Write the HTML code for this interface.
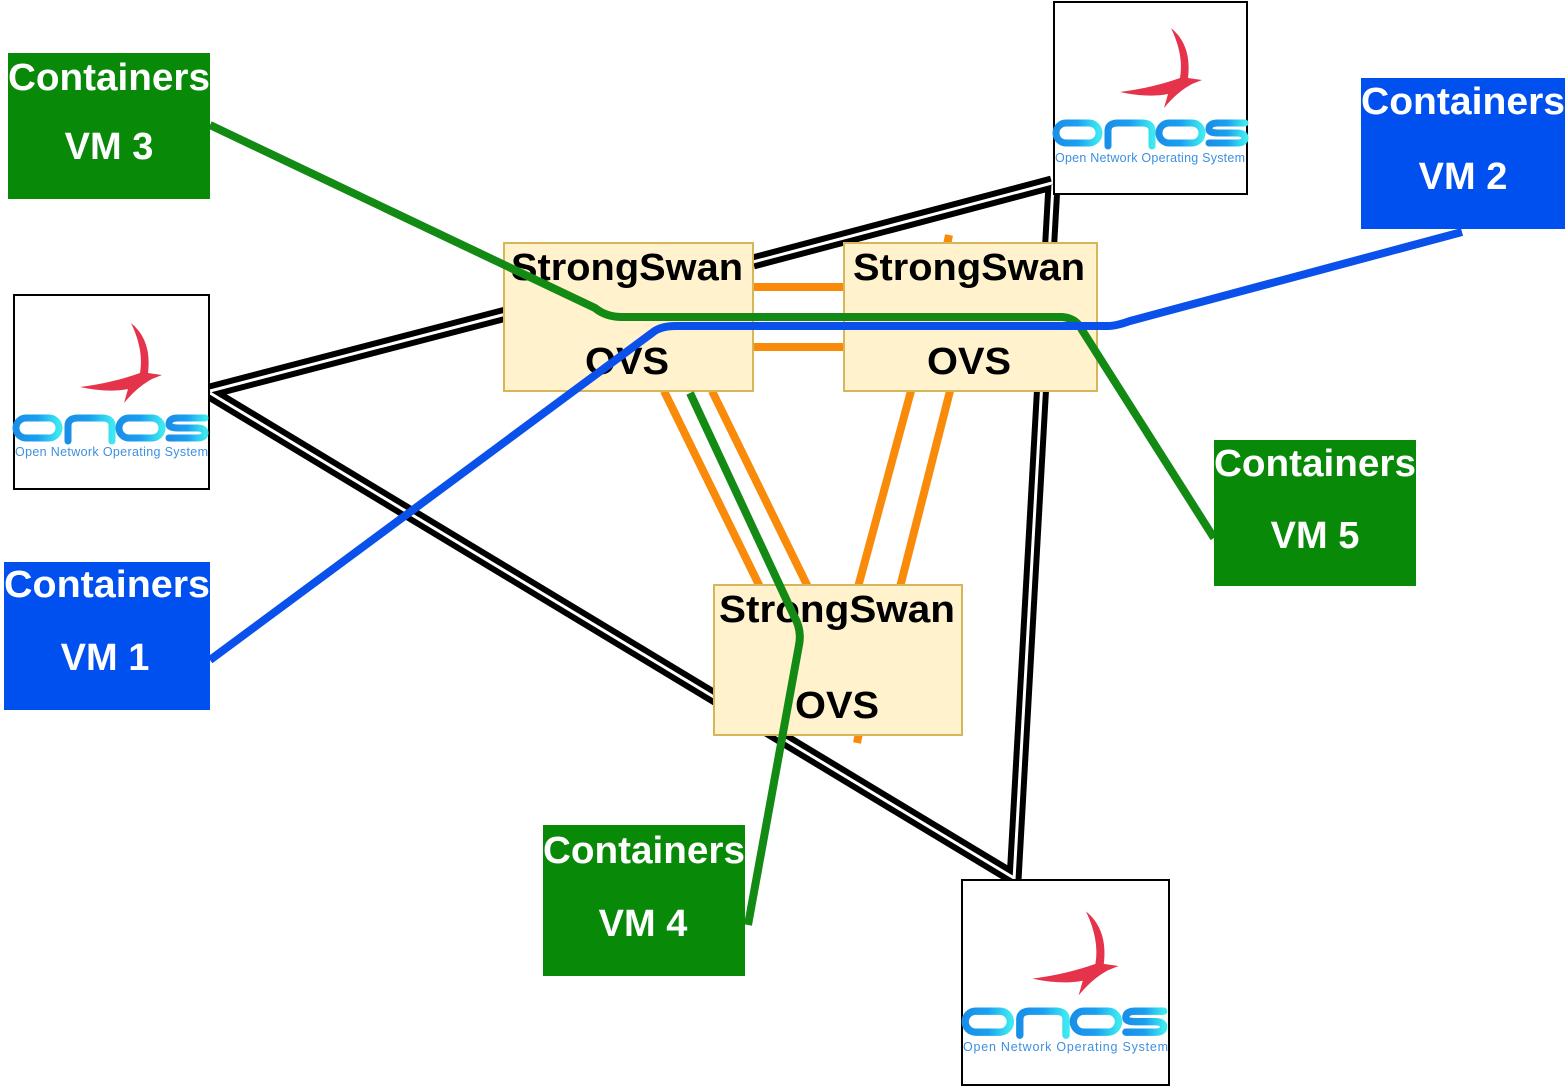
<!DOCTYPE html>
<html><head><meta charset="utf-8"><style>
html,body{margin:0;padding:0;background:#fff}
svg{display:block}
.t{font-family:"Liberation Sans",Arial,sans-serif;font-weight:bold;font-size:38px}
.o{font-family:"Liberation Sans",Arial,sans-serif;font-size:12.5px;fill:#3d8fe0}
</style></head><body>
<svg width="1566" height="1087" viewBox="0 0 1566 1087" xmlns="http://www.w3.org/2000/svg">
<defs>
<linearGradient id="lg" x1="0" x2="1" y1="0" y2="0">
<stop offset="0" stop-color="#1a8fe8"/><stop offset="0.5" stop-color="#1aa0f0"/><stop offset="1" stop-color="#3de8f0"/>
</linearGradient>
<g id="logo">
<path d="M119,28 Q140,45 136,78 L150,80 L140,84 Q125,92 112,108 L116,94 Q95,98 68,92 Q100,88 128,78 Q132,55 119,28 Z" fill="#e5334b"/>
<g fill="none" stroke="url(#lg)" stroke-width="7" stroke-linecap="round">
<rect x="4" y="123" width="43" height="20" rx="10"/>
<path d="M56,146 V131 Q56,123 66,123 H90 Q100,123 100,131 V146"/>
<rect x="107" y="123" width="43" height="20" rx="10"/>
<path d="M193,123 H166 Q157,123 157,129 Q157,133 166,133 H185 Q193,133 193,138 Q193,143 185,143 H157"/>
</g>
</g>
</defs>

<g fill="none" stroke-linecap="butt">
<g stroke="#000" stroke-width="15">
<line x1="210" y1="391" x2="506" y2="314"/>
<line x1="753" y1="262" x2="1052" y2="183"/>
<line x1="1053" y1="185" x2="1014" y2="880"/>
<line x1="210" y1="393" x2="1014" y2="878"/>
</g>
<g stroke="#fff" stroke-width="3">
<line x1="210" y1="391" x2="506" y2="314"/>
<line x1="753" y1="262" x2="1052" y2="183"/>
<line x1="1053" y1="185" x2="1014" y2="880"/>
<line x1="210" y1="393" x2="1014" y2="878"/>
</g>
</g>

<g stroke="#f98a0a" stroke-width="8" fill="none">
<line x1="753" y1="287" x2="844" y2="287"/>
<line x1="753" y1="347" x2="844" y2="347"/>
<line x1="664" y1="391" x2="760" y2="587"/>
<line x1="712" y1="391" x2="808" y2="587"/>
<line x1="911" y1="391" x2="858" y2="587"/>
<line x1="950" y1="391" x2="900" y2="587"/>
<line x1="949" y1="235" x2="947" y2="245"/>
<line x1="859" y1="733" x2="857" y2="743"/>
</g>

<g fill="#fff2cc" stroke="#d6b656" stroke-width="2">
<rect x="504" y="243" width="249" height="148"/>
<rect x="844" y="243" width="253" height="148"/>
<rect x="714" y="585" width="248" height="150"/>
</g>
<g class="t" fill="#000">
<text x="511" y="280" textLength="232" lengthAdjust="spacingAndGlyphs">StrongSwan</text>
<text x="585" y="374" textLength="84" lengthAdjust="spacingAndGlyphs">OVS</text>
<text x="853" y="280" textLength="232" lengthAdjust="spacingAndGlyphs">StrongSwan</text>
<text x="927" y="374" textLength="84" lengthAdjust="spacingAndGlyphs">OVS</text>
<text x="719" y="622" textLength="236" lengthAdjust="spacingAndGlyphs">StrongSwan</text>
<text x="795" y="718" textLength="84" lengthAdjust="spacingAndGlyphs">OVS</text>
</g>

<g fill="none" stroke-width="8" stroke-linejoin="round">
<path d="M210,125 L595,308 Q606,317 622,317 L1062,317 Q1076,318 1082,330 L1214,538" stroke="#138a13"/>
<path d="M690,393 L794,616 Q802,630 799,645 L748,925" stroke="#138a13"/>
<path d="M210,660 L652,333 Q660,326 676,326 L1108,326 Q1116,326 1130,321 L1462,232" stroke="#0a50ea"/>
</g>

<rect x="8" y="53" width="202" height="146" fill="#088908"/>
<rect x="1361" y="78" width="204" height="151" fill="#0050ef"/>
<rect x="1214" y="440" width="202" height="146" fill="#088908"/>
<rect x="4" y="562" width="206" height="148" fill="#0050ef"/>
<rect x="543" y="825" width="202" height="151" fill="#088908"/>
<g class="t" fill="#fff">
<text x="8" y="90" textLength="202" lengthAdjust="spacingAndGlyphs">Containers</text><text x="109" y="159" text-anchor="middle">VM 3</text>
<text x="1361" y="114" textLength="204" lengthAdjust="spacingAndGlyphs">Containers</text><text x="1463" y="189" text-anchor="middle">VM 2</text>
<text x="1214" y="476" textLength="202" lengthAdjust="spacingAndGlyphs">Containers</text><text x="1315" y="548" text-anchor="middle">VM 5</text>
<text x="4" y="597" textLength="206" lengthAdjust="spacingAndGlyphs">Containers</text><text x="105" y="670" text-anchor="middle">VM 1</text>
<text x="543" y="863" textLength="202" lengthAdjust="spacingAndGlyphs">Containers</text><text x="643" y="936" text-anchor="middle">VM 4</text>
</g>

<rect x="14" y="295" width="195" height="194" fill="#fff" stroke="#000" stroke-width="2"/>
<use href="#logo" transform="translate(12,295)"/>
<text class="o" x="15" y="456" textLength="193">Open Network Operating System</text>

<rect x="1054" y="2" width="193" height="192" fill="#fff" stroke="#000" stroke-width="2"/>
<use href="#logo" transform="translate(1052,0)"/>
<text class="o" x="1055" y="162" textLength="190">Open Network Operating System</text>

<rect x="962" y="880" width="207" height="205" fill="#fff" stroke="#000" stroke-width="2"/>
<use href="#logo" transform="translate(961,882) scale(1.05)"/>
<text class="o" x="963" y="1051" textLength="205">Open Network Operating System</text>
</svg>
</body></html>
